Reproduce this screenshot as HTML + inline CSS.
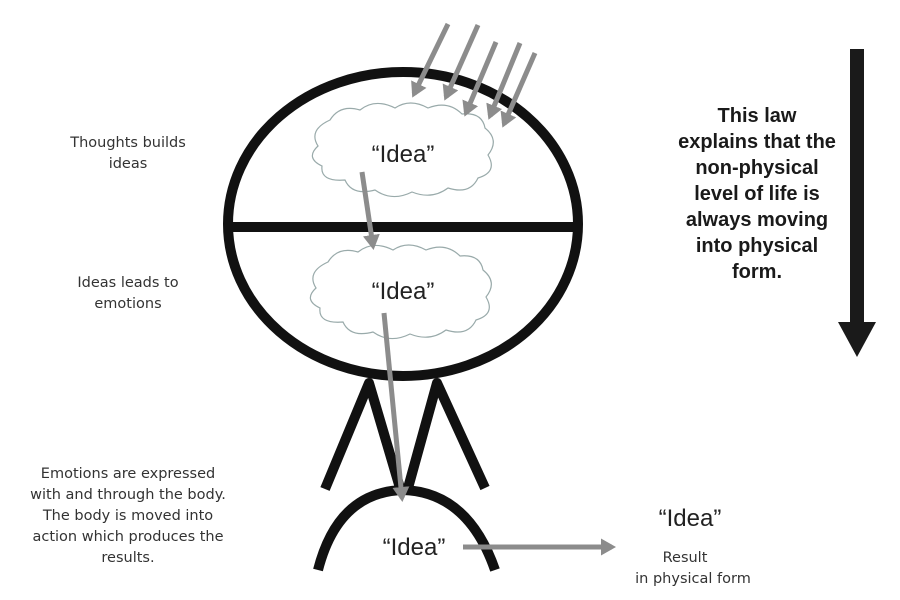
<!DOCTYPE html>
<html><head><meta charset="utf-8"><style>
html,body{margin:0;padding:0;background:#fff;}
svg{display:block}
</style></head><body>
<svg width="900" height="600" viewBox="0 0 900 600" xmlns="http://www.w3.org/2000/svg">
<defs>
<marker id="ah" markerWidth="4" markerHeight="4" refX="2.2" refY="2" orient="auto" markerUnits="strokeWidth">
<path d="M0,0.3 L3,2 L0,3.7 Z" fill="#8c8c8c"/>
</marker>
</defs>
<ellipse cx="403" cy="224" rx="175" ry="152" fill="none" stroke="#111" stroke-width="10"/>
<line x1="232" y1="227" x2="574" y2="227" stroke="#111" stroke-width="10"/>
<g fill="#fff" stroke="#9aa" stroke-width="1.2">
<path d="M330,120 Q340,104 360,110 Q375,98 395,108 Q410,98 428,108 Q448,100 462,114 Q482,112 485,128 Q500,140 488,155 Q498,172 478,178 Q470,195 448,188 Q432,200 412,192 Q392,202 375,190 Q352,196 345,180 Q320,182 322,166 Q305,158 318,146 Q308,130 330,120 Z"/>
<path d="M328,262 Q338,246 358,252 Q373,240 393,250 Q408,240 426,250 Q446,242 460,256 Q480,254 483,270 Q498,282 486,297 Q496,314 476,320 Q468,337 446,330 Q430,342 410,334 Q390,344 373,332 Q350,338 343,322 Q318,324 320,308 Q303,300 316,288 Q306,272 328,262 Z"/>
</g>
<g font-family="Liberation Sans, sans-serif" font-size="24" fill="#222" text-anchor="middle">
<text x="403" y="162">“Idea”</text>
<text x="403" y="299">“Idea”</text>
<text x="414" y="555">“Idea”</text>
<text x="690" y="526">“Idea”</text>
</g>
<g stroke="#111" stroke-width="10" fill="none" stroke-linecap="butt" stroke-linejoin="round">
<polyline points="325,489 369,383 400,488"/>
<polyline points="408,488 437,383 485,488"/>
<path d="M318,570 Q338,492 403,490 Q468,492 495,570"/>
</g>
<g stroke="#8c8c8c" stroke-width="5" fill="none" marker-end="url(#ah)">
<line x1="448" y1="24" x2="414" y2="94"/>
<line x1="478" y1="25" x2="446" y2="97"/>
<line x1="496" y1="42" x2="466" y2="113"/>
<line x1="520" y1="43" x2="490" y2="116"/>
<line x1="535" y1="53" x2="504" y2="124"/>
<line x1="362" y1="172" x2="373" y2="246"/>
<line x1="384" y1="313" x2="402" y2="498"/>
<line x1="463" y1="547" x2="612" y2="547"/>
</g>
<g font-family="DejaVu Sans, sans-serif" font-size="14.5" fill="#333" text-anchor="middle">
<text x="128" y="147">Thoughts builds</text>
<text x="128" y="168">ideas</text>
<text x="128" y="287">Ideas leads to</text>
<text x="128" y="308">emotions</text>
<text x="128" y="478">Emotions are expressed</text>
<text x="128" y="499">with and through the body.</text>
<text x="128" y="520">The body is moved into</text>
<text x="128" y="541">action which produces the</text>
<text x="128" y="562">results.</text>
<text x="685" y="562">Result</text>
<text x="693" y="583">in physical form</text>
</g>
<g font-family="Liberation Sans, sans-serif" font-weight="bold" font-size="20" fill="#1a1a1a" text-anchor="middle">
<text x="757" y="122">This law</text>
<text x="757" y="148">explains that the</text>
<text x="757" y="174">non-physical</text>
<text x="757" y="200">level of life is</text>
<text x="757" y="226">always moving</text>
<text x="757" y="252">into physical</text>
<text x="757" y="278">form.</text>
</g>
<rect x="850" y="49" width="14" height="275" fill="#1a1a1a"/>
<path d="M838,322 L876,322 L857,357 Z" fill="#1a1a1a"/>
</svg>
</body></html>
